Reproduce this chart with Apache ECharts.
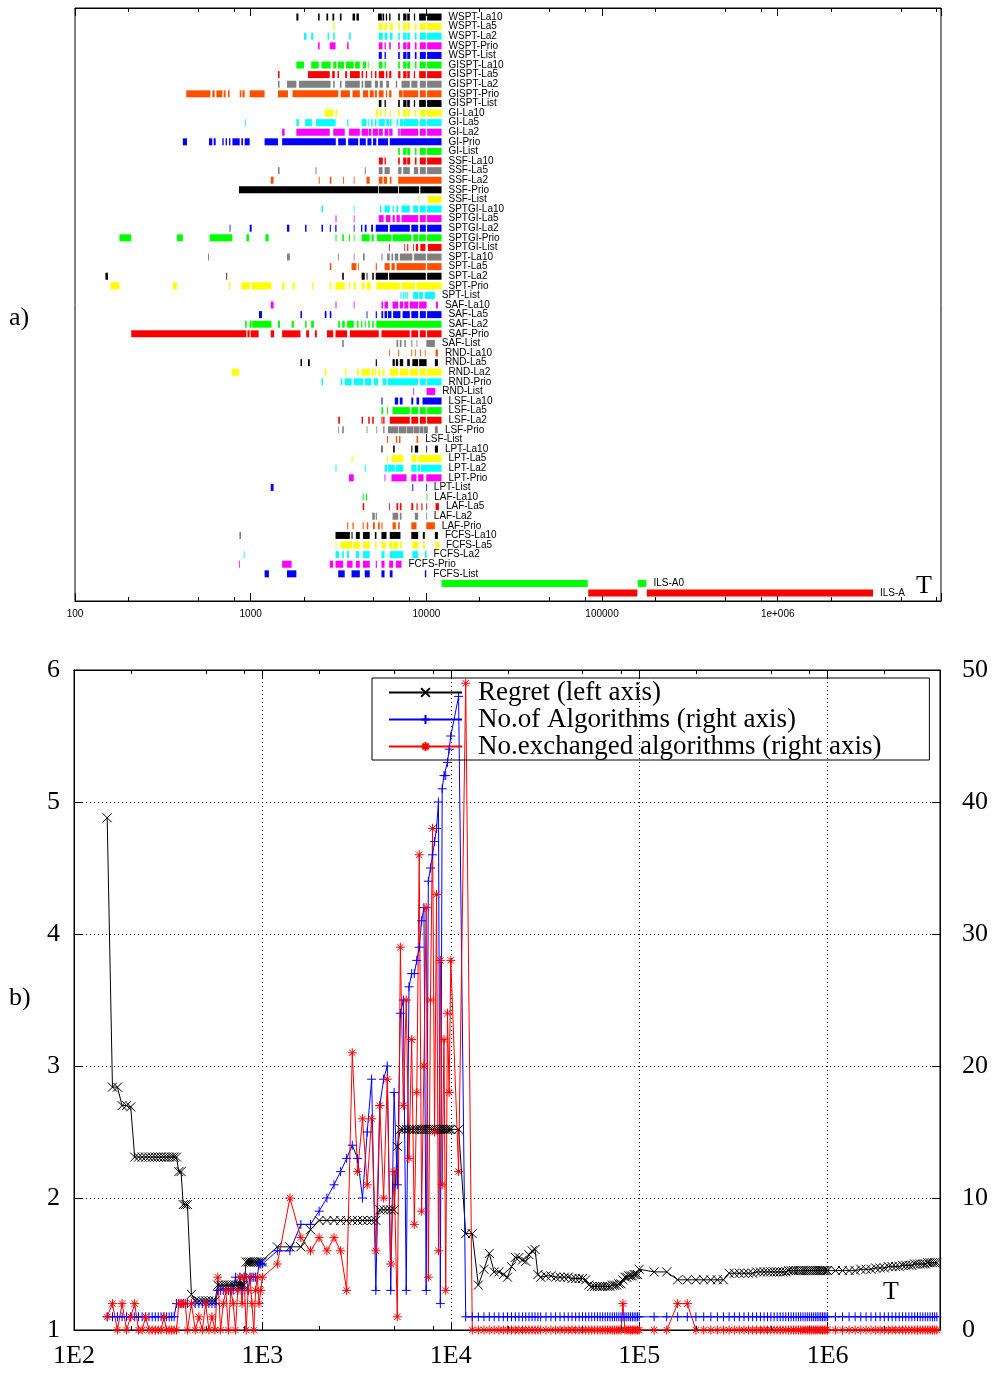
<!DOCTYPE html>
<html>
<head>
<meta charset="utf-8">
<script src="https://cdn.jsdelivr.net/npm/echarts@6.0.0/dist/echarts.min.js"></script>
<style>
html,body{margin:0;padding:0;background:#fff;}
#chart{width:995px;height:1373px;}
</style>
</head>
<body>
<div id="chart"></div>
<script>
// ---------- a) active periods of every heuristic (time T, log scale) ----------
const rowNames = [
  'WSPT-La10','WSPT-La5','WSPT-La2','WSPT-Prio','WSPT-List',
  'GISPT-La10','GISPT-La5','GISPT-La2','GISPT-Prio','GISPT-List',
  'GI-La10','GI-La5','GI-La2','GI-Prio','GI-List',
  'SSF-La10','SSF-La5','SSF-La2','SSF-Prio','SSF-List',
  'SPTGI-La10','SPTGI-La5','SPTGI-La2','SPTGI-Prio','SPTGI-List',
  'SPT-La10','SPT-La5','SPT-La2','SPT-Prio','SPT-List',
  'SAF-La10','SAF-La5','SAF-La2','SAF-Prio','SAF-List',
  'RND-La10','RND-La5','RND-La2','RND-Prio','RND-List',
  'LSF-La10','LSF-La5','LSF-La2','LSF-Prio','LSF-List',
  'LPT-La10','LPT-La5','LPT-La2','LPT-Prio','LPT-List',
  'LAF-La10','LAF-La5','LAF-La2','LAF-Prio',
  'FCFS-La10','FCFS-La5','FCFS-La2','FCFS-Prio','FCFS-List',
  'ILS-A0','ILS-A'
];
// row colours repeat every nine rows
const rowColors = ['#000000','#ffff00','#00ffff','#ff00ff','#0000ff','#00ff00','#ff0000','#808080','#ff5000'];

// [start, end] intervals per row, grouped by rule family
const wspt = [
  [[1820,1870],[2420,2470],[2700,2760],[2920,2990],[3220,3290],[3800,3930],[4000,4130],[5310,5580],[5630,5750],[5880,5980],[6140,6250],[6910,7060],[7380,7710],[7780,8050],[8490,8630],[9100,9930],[10100,12200]],
  [[2950,3010],[5360,5650],[5780,5990],[6190,6440],[6910,7060],[7380,7710],[7780,8090],[8600,8790],[9180,9930],[10100,12200]],
  [[2010,2080],[2210,2270],[2740,2790],[2950,3010],[3630,3710],[5360,5650],[5780,5990],[6190,6420],[6910,7060],[7380,7710],[7780,8050],[8600,8790],[9180,9930],[10100,12200]],
  [[2420,2470],[2820,3040],[3540,3610],[5360,5630],[5780,5880],[6140,6270],[6910,7060],[7380,7710],[7780,8090],[8600,8790],[9180,9930],[10100,12200]],
  [[5360,5580],[5780,5880],[6910,7060],[7380,7710],[7780,8090],[8600,8790],[9180,9930],[10100,12200]]
];
const gispt = [
  [[1820,2010],[2210,2440],[2530,2850],[2950,3080],[3140,3400],[3490,3860],[3930,4180],[4350,4540],[4640,4680],[5360,5630],[5780,5880],[6910,7060],[7380,7710],[7780,8090],[8600,8790],[9180,9930],[10100,12200]],
  [[1430,1460],[2120,2820],[2910,3010],[3120,3180],[3450,3540],[3670,4180],[4280,4370],[4520,4600],[4850,4920],[5090,5200],[5360,5750],[5880,6000],[6140,6320],[6910,7120],[7380,7710],[7780,8050],[8490,8630],[9100,9930],[10100,12200]],
  [[1430,1460],[1610,1820],[1880,2850],[2950,3010],[3220,3290],[3450,4180],[4280,4370],[4460,4870],[5090,5310],[5430,5650],[5910,6140],[6700,6820],[7220,8050],[8210,8900],[9180,9930],[10100,12200]],
  [[430,590],[605,624],[638,690],[702,720],[743,759],[866,885],[897,924],[987,1200],[1430,1630],[1730,3150],[3250,3670],[3800,4180],[4360,4670],[4760,5020],[5090,5230],[5360,5710],[5880,5980],[6140,6330],[6990,7320],[7380,8980],[9180,9930],[10100,12200]],
  [[5360,5550],[5780,5880],[6910,7060],[7380,7710],[7780,8050],[8490,8630],[9100,9930],[10100,12200]]
];
const gi = [
  [[2640,2950],[3040,3100],[5150,5310],[5430,5550],[5780,5880],[6190,6270],[6910,7060],[7380,7710],[7780,8050],[8600,8790],[9180,9930],[10100,12200]],
  [[930,940],[1820,1880],[2040,2230],[2350,3040],[3540,3600],[4280,4570],[4670,4730],[4850,4950],[5090,5200],[5360,5800],[5910,6140],[6190,6330],[6760,6910],[7060,7380],[7440,8980],[9180,9930],[10100,12200]],
  [[1510,1560],[1820,2820],[2950,3430],[3630,4180],[4280,4670],[4700,4860],[4950,5310],[5360,5650],[5780,6070],[6140,6420],[6910,7060],[7120,8980],[9180,9930],[10100,12200]],
  [[411,434],[579,605],[616,632],[690,702],[720,733],[752,766],[787,866],[885,904],[924,987],[1200,1430],[1510,3050],[3150,3480],[3590,4090],[4180,4520],[4620,4870],[4970,5190],[5310,6050],[6190,12200]],
  [[6910,7060],[7380,7710],[7780,8090],[8600,8790],[9180,9930],[10100,12200]]
];
const ssf = [
  [[5360,5650],[5780,5880],[6910,7060],[7380,7710],[7780,8090],[8600,8790],[9180,9930],[10100,12200]],
  [[1430,1460],[2340,2370],[4460,4520],[5360,5630],[5780,6190],[6910,7220],[7380,8050],[8490,8980],[9180,9930],[10100,12200]],
  [[1300,1350],[2440,2470],[2820,2880],[3360,3400],[3860,3900],[4560,4760],[5360,5630],[5720,5980],[6190,6330],[6910,12200]],
  [[858,5310],[5360,6910],[6990,9100],[9240,12200]],
  [[8980,9060],[10200,12200]]
];
const sptgi = [
  [[2530,2580],[3860,3900],[5430,5550],[5780,6190],[6420,6530],[6760,6910],[7220,8050],[8420,8980],[9180,9930],[10100,12200]],
  [[3040,3080],[3860,3900],[5360,5710],[5880,6250],[6420,6610],[6760,7060],[7220,8980],[9180,9930],[10100,12200]],
  [[759,766],[987,1013],[1610,1660],[2040,2080],[2530,2580],[2820,2860],[3030,3080],[3860,3900],[4250,4320],[4460,4570],[4850,4970],[5150,6050],[6190,8050],[8210,8980],[9180,9930],[10100,12200]],
  [[179,209],[380,411],[584,787],[945,978],[1213,1266],[3040,3080],[3320,3390],[3630,3680],[3860,3900],[4280,4760],[4870,5020],[5230,6330],[6420,8210],[8420,8980],[9100,9930],[10100,12200]],
  [[6140,6190],[7490,7540],[7780,7890],[8420,8490],[8710,8980],[9240,9870],[10200,12200]]
];
const spt = [
  [[572,579],[1610,1670],[3150,3180],[3860,3900],[4360,4460],[5550,5630],[5980,6190],[6330,6470],[6610,6910],[7060,8320],[8490,9930],[10100,12200]],
  [[2820,2880],[3750,4000],[4090,4130],[5150,5230],[5780,6190],[6330,6610],[6760,9930],[10100,12200]],
  [[149,154],[727,733],[3320,3390],[4280,4460],[4570,4620],[4920,5020],[5150,6050],[6140,9930],[10100,12200]],
  [[159,179],[361,380],[752,766],[885,987],[1009,1312],[1510,1560],[1730,1780],[2230,2270],[2820,2880],[3040,3430],[3630,3690],[3860,3970],[4280,4460],[4570,4820],[5190,7060],[7220,8600],[8790,12200]],
  [[7120,7220],[7380,7490],[7580,7640],[7780,7890],[8420,8980],[9100,9550],[9800,11180]]
];
const saf = [
  [[1300,1350],[3040,3080],[3860,3900],[5550,5680],[5780,6050],[6420,6910],[7060,7380],[7490,7890],[8050,8980],[9100,10030],[11330,11630]],
  [[1115,1160],[1920,1960],[2640,2700],[2820,2880],[4570,4620],[5150,5230],[5550,5680],[5780,5980],[6050,6330],[6470,7120],[7320,8050],[8210,8980],[9180,9930],[10100,12200]],
  [[930,950],[987,1013],[1020,1312],[1430,1470],[1710,1760],[2040,2080],[2210,2290],[3150,3220],[3320,3430],[3540,3860],[4030,4110],[4250,4320],[4460,4520],[4670,4760],[4920,5020],[5190,12200]],
  [[209,945],[958,987],[1000,1110],[1300,1360],[1510,1920],[2070,2150],[2320,2380],[2720,2950],[3040,3540],[3670,5360],[5550,8050],[8210,8980],[9180,9930],[10100,12200]],
  [[3320,3390],[6760,6910],[7060,7220],[7490,7640],[8210,8320],[8790,8850],[9990,11180]]
];
const rnd = [
  [[6140,6190],[6910,7000],[8210,8300],[8600,8700],[9180,9300],[9800,9900],[11280,11630]],
  [[1920,1960],[2120,2170],[5150,5230],[6420,6610],[6700,6910],[7060,7380],[7780,8050],[8320,8980],[9100,10030],[11180,11630]],
  [[782,858],[2640,2700],[3450,3510],[4030,4130],[4280,4760],[4870,5020],[5090,5190],[5310,5430],[5630,5780],[6190,6910],[7060,7890],[8050,8980],[9180,9930],[10100,12200]],
  [[2530,2580],[3250,3320],[3430,3750],[3860,4360],[4460,4870],[5020,5310],[5630,5930],[6050,8980],[9180,9930],[10100,12200]],
  [[8420,8490],[10030,11230]]
];
const lsf = [
  [[5550,5630],[6610,6910],[7060,7320],[8210,8420],[8790,9100],[9510,12200]],
  [[5550,5680],[5970,6050],[6420,8050],[8210,8980],[9180,9930],[10100,12200]],
  [[3150,3220],[4280,4360],[4670,4760],[4920,5020],[5550,5630],[5680,5780],[6190,8050],[8210,8980],[9180,9930],[10100,12200]],
  [[3150,3180],[3320,3390],[4570,4620],[5190,5230],[5680,5780],[6050,6900],[6950,7700],[7750,8450],[8500,9100],[9150,9600],[9650,10200],[11180,11630]],
  [[5970,6050],[6700,6820],[6990,7120],[8790,8980]]
];
const lpt = [
  [[5550,5630],[6470,6610],[8210,8320],[8600,8980],[9990,10100],[11180,11630]],
  [[3750,3810],[5970,6050],[6330,7380],[8210,8790],[8980,12200]],
  [[3040,3080],[4460,4520],[5780,5980],[6050,6610],[6700,7380],[8210,8790],[8900,9200],[9300,12200]],
  [[3630,3860],[5780,5850],[6330,7710],[8210,8790],[8980,9630],[9990,12200]],
  [[1300,1350],[8320,8420],[9990,10060]]
];
const laf = [
  [[4340,4400],[4520,4600],[10030,10120]],
  [[4340,4430],[6140,6190],[6760,6910],[7060,7220],[8210,8420],[8790,8920],[9370,9510],[9990,10060],[11280,11790]],
  [[4920,5090],[5150,5230],[6420,6910],[7060,7220],[8600,8980],[9990,10060]],
  [[3540,3590],[3800,3860],[4340,4400],[4580,4670],[4970,5090],[5310,5430],[5550,5630],[6420,6700],[6910,7060],[8210,8790],[9990,11180]]
];
const fcfs = [
  [[866,872],[3040,3670],[3750,3800],[3970,4180],[4360,4760],[5090,5200],[5550,5930],[6190,7120],[8210,8980],[9550,9800],[11180,11630]],
  [[3040,3080],[3250,3800],[3860,4180],[4360,4760],[5090,5200],[5550,5880],[6140,6420],[6470,6910],[7060,7220],[8320,8980],[9550,9800],[11280,11790]],
  [[913,924],[3040,3180],[3320,3390],[3540,3630],[3970,4130],[4360,4760],[5550,5780],[6190,7380],[8320,8980],[9800,10030]],
  [[858,866],[1510,1710],[2820,2950],[3040,3360],[3540,3800],[3970,4180],[4360,4760],[5150,5230],[5550,5780],[6140,6470],[6700,7220]],
  [[1200,1270],[1610,1820],[3150,3430],[3750,4180],[4460,4760],[5550,5780],[6190,6420],[9800,9990]]
];
const ils = [
  [[12200,82900],[159700,178800]],
  [[83500,158900],[179800,3487000]]
];
const rows = [].concat(wspt, gispt, gi, ssf, sptgi, spt, saf, rnd, lsf, lpt, laf, fcfs, ils);

// ---------- b) regret and algorithm counts over time ----------
const timeSteps = [
  150,160,170,180,190,200,210,220,230,240,250,260,270,280,290,300,310,320,330,340,350,360,370,380,390,400,
  420,440,460,480,500,520,540,560,580,600,620,640,660,680,700,720,740,760,780,800,820,840,860,880,900,920,940,960,980,1000,
  1200,1400,1600,1800,2000,2200,2400,2600,2800,3000,3200,3400,3600,3800,4000,4200,4400,4600,4800,5000,5200,5400,5600,5800,6000,
  6200,6400,6600,6800,7000,7200,7400,7600,7800,8000,8200,8400,8600,8800,9000,9200,9400,9600,9800,10000,
  11000,12000,13000,14000,15000,16000,17000,18000,19000,20000,21000,22000,23000,24000,25000,26000,27000,28000,29000,30000,
  32000,34000,36000,38000,40000,42000,44000,46000,48000,50000,52000,54000,56000,58000,60000,62000,64000,66000,68000,70000,
  72000,74000,76000,78000,80000,82000,84000,86000,88000,90000,92000,94000,96000,98000,100000,
  120000,140000,160000,180000,200000,220000,240000,260000,280000,300000,320000,340000,360000,380000,400000,
  420000,440000,460000,480000,500000,520000,540000,560000,580000,600000,620000,640000,660000,680000,700000,
  720000,740000,760000,780000,800000,820000,840000,860000,880000,900000,920000,940000,960000,980000,1000000,
  1100000,1200000,1300000,1400000,1500000,1600000,1700000,1800000,1900000,2000000,2100000,2200000,2300000,2400000,
  2500000,2600000,2700000,2800000,2900000,3000000,3100000,3200000,3300000,3400000,3500000,3600000,3700000,3800000
];
const regret = [
  4.88,2.84,2.84,2.70,2.70,2.69,2.31,2.31,2.31,2.31,2.31,2.31,2.31,2.31,2.31,2.31,2.31,2.31,2.31,2.31,2.31,2.20,2.20,1.95,1.95,1.95,
  1.27,1.22,1.22,1.22,1.22,1.22,1.22,1.22,1.34,1.34,1.34,1.34,1.34,1.34,1.34,1.34,1.34,1.34,1.34,1.34,1.515,1.515,1.515,1.515,1.515,1.515,1.515,1.515,1.515,1.515,
  1.63,1.63,1.63,1.76,1.83,1.83,1.83,1.83,1.83,1.83,1.83,1.83,1.83,1.83,1.83,1.91,1.91,1.91,1.91,1.91,2.39,2.52,2.52,2.52,2.52,
  2.52,2.52,2.52,2.52,2.52,2.52,2.52,2.52,2.52,2.52,2.52,2.52,2.52,2.52,2.52,2.52,2.52,2.52,2.52,2.52,
  2.52,1.73,1.73,1.34,1.46,1.58,1.44,1.44,1.42,1.40,1.48,1.55,1.55,1.53,1.52,1.57,1.60,1.61,1.42,1.40,
  1.41,1.41,1.40,1.40,1.40,1.40,1.39,1.39,1.39,1.39,1.38,1.34,1.33,1.33,1.33,1.33,1.33,1.33,1.33,1.33,
  1.34,1.34,1.34,1.35,1.35,1.38,1.40,1.40,1.41,1.41,1.41,1.42,1.42,1.42,1.46,
  1.44,1.44,1.38,1.38,1.38,1.38,1.38,1.38,1.38,1.43,1.43,1.43,1.43,1.43,1.43,
  1.44,1.44,1.44,1.44,1.44,1.44,1.44,1.44,1.44,1.44,1.45,1.45,1.45,1.45,1.45,
  1.45,1.45,1.45,1.45,1.45,1.45,1.45,1.45,1.45,1.45,1.45,1.45,1.45,1.45,1.45,
  1.45,1.45,1.45,1.45,1.46,1.46,1.46,1.47,1.47,1.47,1.48,1.48,1.48,1.48,
  1.49,1.49,1.49,1.49,1.50,1.50,1.50,1.50,1.50,1.51,1.51,1.51,1.51,1.51
];
const algorithms = [
  1,1,1,1,1,1,1,1,1,1,1,1,1,1,1,1,1,1,1,1,2,2,2,2,2,2,
  2,2,2,2,2,2,2,2,3,3,3,3,3,3,3,4,3,4,3,4,4,3,4,4,4,4,4,5,5,5,
  6,6,8,8,9,10,11,12,13,14,13,10,15,19,3,17,19,20,3,18,11,24,25,3,26,
  27,27,28,29,31,32,3,34,35,36,37,38,40,2,41,42,42,43,44,45,
  48,1,1,1,1,1,1,1,1,1,1,1,1,1,1,1,1,1,1,1,
  1,1,1,1,1,1,1,1,1,1,1,1,1,1,1,1,1,1,1,1,
  1,1,1,1,1,1,1,1,1,1,1,1,1,1,1,
  1,1,1,1,1,1,1,1,1,1,1,1,1,1,1,
  1,1,1,1,1,1,1,1,1,1,1,1,1,1,1,
  1,1,1,1,1,1,1,1,1,1,1,1,1,1,1,
  1,1,1,1,1,1,1,1,1,1,1,1,1,1,
  1,1,1,1,1,1,1,1,1,1,1,1,1,1
];
const exchanged = [
  1,2,0,2,0,1,2,0,0,1,0,0,0,0,0,1,0,0,0,0,0,2,2,2,2,0,
  2,0,1,0,2,0,1,0,4,0,2,3,0,3,2,0,3,4,2,4,0,3,4,2,0,3,4,2,3,4,
  5,10,7,6,7,6,7,6,3,21,12,16,11,16,6,17,10,19,5,12,1,29,17,25,13,
  22,8,18,36,9,20,32,4,25,38,15,33,6,28,11,22,3,24,18,28,
  12,49,0,0,0,0,0,0,0,0,0,0,0,0,0,0,0,0,0,0,
  0,0,0,0,0,0,0,0,0,0,0,0,0,0,0,0,0,0,0,0,
  0,0,0,0,0,2,0,0,0,0,0,0,0,0,0,
  0,0,2,2,0,0,0,0,0,0,0,0,0,0,0,
  0,0,0,0,0,0,0,0,0,0,0,0,0,0,0,
  0,0,0,0,0,0,0,0,0,0,0,0,0,0,0,
  0,0,0,0,0,0,0,0,0,0,0,0,0,0,
  0,0,0,0,0,0,0,0,0,0,0,0,0,0
];

// minor tick marks (2, 5 and 8 of each decade)
const minorTicksTop = [200,500,800,2000,5000,8000,20000,50000,80000,200000,500000,800000,2000000,5000000,8000000];
const minorTicksBottom = [200,500,800,2000,5000,8000,20000,50000,80000,200000,500000,800000,2000000];

const serif = '"Liberation Serif", "DejaVu Serif", serif';
const sans = '"Liberation Sans", Arial, sans-serif';

const segData = [];
rows.forEach((segs, r) => segs.forEach(s => segData.push([s[0], s[1], r])));
const labelData = rows.map((segs, r) => [Math.max.apply(null, segs.map(s => s[1])), r]);

function decade(v) {
  const e = Math.log10(v);
  return Math.abs(e - Math.round(e)) < 1e-6 ? Math.round(e) : null;
}

function minorTickSeries(xIdx, yIdx, values, yVal) {
  return {
    type: 'custom', xAxisIndex: xIdx, yAxisIndex: yIdx, silent: true, z: 5,
    data: values.map(v => [v, yVal]),
    encode: { x: 0, y: 1 },
    renderItem: (params, api) => {
      const cs = params.coordSys;
      const x = Math.round(api.coord([api.value(0), api.value(1)])[0]) + 0.5;
      return { type: 'group', children: [
        { type: 'line', shape: { x1: x, y1: cs.y + cs.height, x2: x, y2: cs.y + cs.height - 4 }, style: { stroke: '#000', lineWidth: 1 } },
        { type: 'line', shape: { x1: x, y1: cs.y, x2: x, y2: cs.y + 4 }, style: { stroke: '#000', lineWidth: 1 } }
      ]};
    }
  };
}

const markX = 'path://M0,0L10,10M10,0L0,10';
const markPlus = 'path://M5,0L5,10M0,5L10,5';
const markStar = 'path://M5,0L5,10M0,5L10,5M1.5,1.5L8.5,8.5M8.5,1.5L1.5,8.5';

function lineSeries(name, values, yIdx, color, symbol) {
  return {
    name: name, type: 'line', xAxisIndex: 2, yAxisIndex: yIdx,
    data: timeSteps.map((t, i) => [t, values[i]]),
    symbol: symbol, symbolSize: 9, showSymbol: true,
    lineStyle: { color: color, width: 1 },
    itemStyle: { color: color, borderColor: color, borderWidth: 1 },
    emphasis: { disabled: true },
    z: 3
  };
}

const axisBlack = { onZero: false, lineStyle: { color: '#000', width: 1 } };
const tickIn = { inside: true, length: 8, lineStyle: { color: '#000' } };
const dotted = { show: true, lineStyle: { color: '#000', type: [1, 3], width: 1 } };

const chart = echarts.init(document.getElementById('chart'), null, { renderer: 'canvas', width: 995, height: 1373 });
chart.setOption({
  animation: false,
  backgroundColor: '#fff',
  grid: [
    { left: 75, top: 8, width: 866, height: 593, show: true, borderColor: '#000', borderWidth: 1, backgroundColor: 'transparent' },
    { left: 74, top: 670, width: 866, height: 660, show: true, borderColor: '#000', borderWidth: 1, backgroundColor: 'transparent' }
  ],
  xAxis: [
    { gridIndex: 0, type: 'log', min: 100, max: 8.5e6, axisLine: axisBlack, axisTick: tickIn, splitLine: { show: false },
      axisLabel: { color: '#000', fontFamily: sans, fontSize: 10, margin: 8,
        formatter: v => { const k = decade(v); if (k === null) return ''; return k >= 6 ? '1e+00' + k : String(Math.pow(10, k)); } } },
    { gridIndex: 0, type: 'log', position: 'top', min: 100, max: 8.5e6, axisLine: axisBlack, axisTick: tickIn,
      splitLine: { show: false }, axisLabel: { show: false } },
    { gridIndex: 1, type: 'log', min: 100, max: 3.95e6, axisLine: axisBlack, axisTick: tickIn, splitLine: dotted,
      axisLabel: { color: '#000', fontFamily: serif, fontSize: 26, margin: 13,
        formatter: v => { const k = decade(v); return k === null ? '' : '1E' + k; } } },
    { gridIndex: 1, type: 'log', position: 'top', min: 100, max: 3.95e6, axisLine: axisBlack, axisTick: tickIn,
      splitLine: { show: false }, axisLabel: { show: false } }
  ],
  yAxis: [
    { gridIndex: 0, type: 'value', inverse: true, min: -0.94, max: 60.83, show: false },
    { gridIndex: 1, type: 'value', min: 1, max: 6, interval: 1, position: 'left', axisLine: axisBlack, axisTick: tickIn,
      splitLine: dotted, axisLabel: { color: '#000', fontFamily: serif, fontSize: 26, margin: 14 } },
    { gridIndex: 1, type: 'value', min: 0, max: 50, interval: 10, position: 'right', axisLine: axisBlack, axisTick: tickIn,
      splitLine: { show: false }, axisLabel: { color: '#000', fontFamily: serif, fontSize: 26, margin: 22 } }
  ],
  legend: {
    data: ['Regret (left axis)', 'No.of Algorithms (right axis)', 'No.exchanged algorithms (right axis)'],
    orient: 'vertical', left: 372, top: 678,
    padding: [1, 48, 0, 16], itemWidth: 73, itemHeight: 11, itemGap: 0,
    borderColor: '#000', borderWidth: 1, selectedMode: false,
    textStyle: { fontFamily: serif, fontSize: 27, color: '#000', lineHeight: 27, padding: [0, 0, 0, 11] }
  },
  graphic: [
    { type: 'text', x: 9, y: 318, style: { text: 'a)', font: '26px "Liberation Serif"', fill: '#000', verticalAlign: 'middle' } },
    { type: 'text', x: 9, y: 998, style: { text: 'b)', font: '26px "Liberation Serif"', fill: '#000', verticalAlign: 'middle' } },
    { type: 'text', x: 924, y: 586, style: { text: 'T', font: '26px "Liberation Serif"', fill: '#000', align: 'center', verticalAlign: 'middle' } },
    { type: 'text', x: 891, y: 1292, style: { text: 'T', font: '26px "Liberation Serif"', fill: '#000', align: 'center', verticalAlign: 'middle' } }
  ],
  series: [
    { type: 'custom', xAxisIndex: 0, yAxisIndex: 0, silent: true,
      data: segData, encode: { x: [0, 1], y: 2 },
      renderItem: (params, api) => {
        const r = api.value(2);
        const a = api.coord([api.value(0), r]);
        const b = api.coord([api.value(1), r]);
        return { type: 'rect', shape: { x: a[0], y: a[1] - 3.5, width: Math.max(b[0] - a[0], 0.8), height: 7 },
                 style: { fill: rowColors[r % rowColors.length] } };
      } },
    { type: 'custom', xAxisIndex: 0, yAxisIndex: 0, silent: true,
      data: labelData, encode: { x: 0, y: 1 },
      renderItem: (params, api) => {
        const r = api.value(1);
        const p = api.coord([api.value(0), r]);
        return { type: 'text', x: p[0] + 7, y: p[1],
                 style: { text: rowNames[r], fill: '#000', fontFamily: sans, fontSize: 10, align: 'left', verticalAlign: 'middle' } };
      } },
    minorTickSeries(0, 0, minorTicksTop, 0),
    minorTickSeries(2, 1, minorTicksBottom, 1),
    lineSeries('Regret (left axis)', regret, 1, '#000000', markX),
    lineSeries('No.of Algorithms (right axis)', algorithms, 2, '#0000ff', markPlus),
    lineSeries('No.exchanged algorithms (right axis)', exchanged, 2, '#ff0000', markStar)
  ]
});
</script>
</body>
</html>
